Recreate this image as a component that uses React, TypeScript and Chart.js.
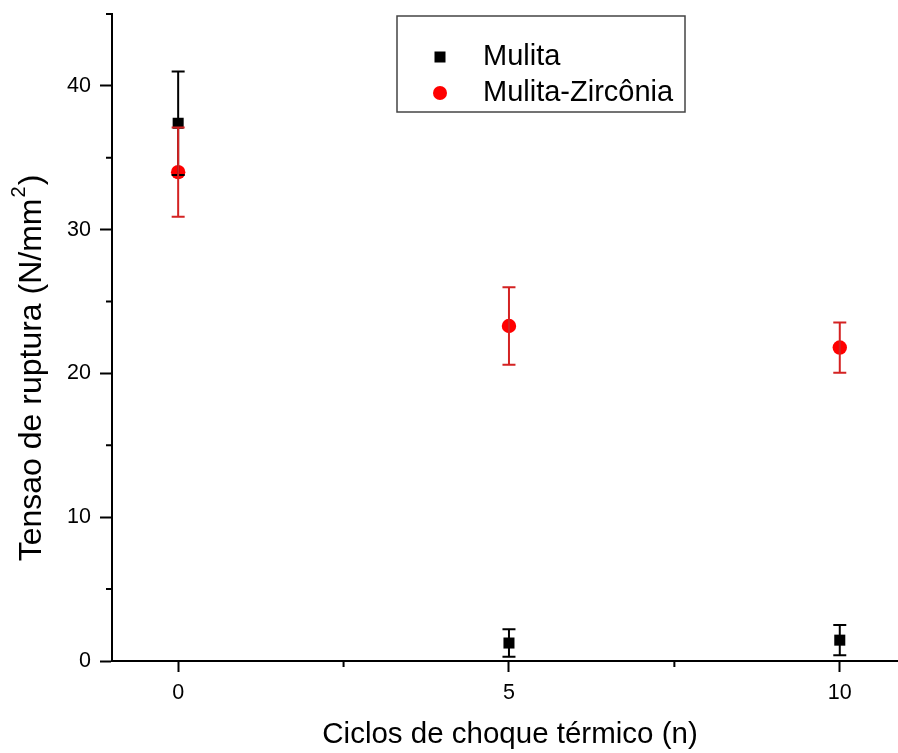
import React, { useEffect, useRef } from 'react';
import { Chart, registerables } from 'chart.js';

Chart.register(...registerables);

// ---- data ----
const cycles = [0, 5, 10];
const mulitaValues = [37.4, 1.25, 1.45];
const mulitaErrors = [3.6, 0.95, 1.05];
const zirconiaValues = [34.0, 23.3, 21.8];
const zirconiaErrors = [3.1, 2.7, 1.75];
const seriesLabels = ['Mulita', 'Mulita-Zircônia'];
const xMajorTicks = [0, 5, 10];
const xMinorTicks = [2.5, 7.5];
const yMajorTicks = [0, 10, 20, 30, 40];
const yMinorTicks = [5, 15, 25, 35, 45];
const xTitle = 'Ciclos de choque térmico (n)';
const yTitleParts = ['Tensao de ruptura (N/mm', '2', ')'];

const FONT = 'Arial, "Liberation Sans", Helvetica, sans-serif';
const BLACK = '#000000';
const RED = '#ff0000';
const RED_BAR = '#d42222';

const errorSets = [mulitaErrors, zirconiaErrors];
const valueSets = [mulitaValues, zirconiaValues];
const barColors = [BLACK, RED_BAR];

const errorBarPlugin = {
  id: 'errorBars',
  afterDatasetsDraw(chart: any) {
    const ctx = chart.ctx;
    const xs = chart.scales.x;
    const ys = chart.scales.y;
    ctx.save();
    for (let d = 0; d < valueSets.length; d++) {
      ctx.strokeStyle = barColors[d];
      ctx.lineWidth = 2;
      for (let j = 0; j < cycles.length; j++) {
        const x = xs.getPixelForValue(cycles[j]);
        const v = valueSets[d][j];
        const e = errorSets[d][j];
        const yt = ys.getPixelForValue(v + e);
        const yb = ys.getPixelForValue(v - e);
        ctx.beginPath();
        ctx.moveTo(x, yt);
        ctx.lineTo(x, yb);
        ctx.moveTo(x - 6.5, yt);
        ctx.lineTo(x + 6.5, yt);
        ctx.moveTo(x - 6.5, yb);
        ctx.lineTo(x + 6.5, yb);
        ctx.stroke();
      }
    }
    ctx.restore();
  },
};

const minorTickPlugin = {
  id: 'minorTicks',
  afterDraw(chart: any) {
    const ctx = chart.ctx;
    const xs = chart.scales.x;
    const ys = chart.scales.y;
    const area = chart.chartArea;
    ctx.save();
    ctx.strokeStyle = BLACK;
    ctx.lineWidth = 2;
    ctx.beginPath();
    for (const v of xMinorTicks) {
      const x = xs.getPixelForValue(v);
      ctx.moveTo(x, area.bottom);
      ctx.lineTo(x, area.bottom + 6);
    }
    for (const v of yMinorTicks) {
      const y = ys.getPixelForValue(v);
      ctx.moveTo(area.left, y);
      ctx.lineTo(area.left - 6, y);
    }
    ctx.stroke();
    ctx.restore();
  },
};

const titlesPlugin = {
  id: 'axisTitles',
  afterDraw(chart: any) {
    const ctx = chart.ctx;
    ctx.save();
    ctx.fillStyle = BLACK;
    // x title
    ctx.font = `29.5px ${FONT}`;
    ctx.textAlign = 'center';
    ctx.textBaseline = 'middle';
    ctx.fillText(xTitle, 510, 735);
    // y title (rotated) with superscript
    const big = `32px ${FONT}`;
    const small = `20px ${FONT}`;
    ctx.font = big;
    const w1 = ctx.measureText(yTitleParts[0]).width;
    const w3 = ctx.measureText(yTitleParts[2]).width;
    ctx.font = small;
    const w2 = ctx.measureText(yTitleParts[1]).width + 2;
    const total = w1 + w2 + w3;
    ctx.translate(32, 368);
    ctx.rotate(-Math.PI / 2);
    ctx.textAlign = 'left';
    ctx.textBaseline = 'middle';
    let sx = -total / 2;
    ctx.font = big;
    ctx.fillText(yTitleParts[0], sx, 0);
    sx += w1;
    ctx.font = small;
    ctx.fillText(yTitleParts[1], sx + 1, -13);
    sx += w2;
    ctx.font = big;
    ctx.fillText(yTitleParts[2], sx, 0);
    ctx.restore();
  },
};

const legendBoxPlugin = {
  id: 'legendBox',
  afterDraw(chart: any) {
    const ctx = chart.ctx;
    ctx.save();
    ctx.strokeStyle = '#444';
    ctx.lineWidth = 1.5;
    ctx.strokeRect(397, 16, 288, 96);
    const rows = [57, 93];
    chart.data.datasets.forEach((ds: any, i: number) => {
      const y = rows[i];
      ctx.fillStyle = ds.backgroundColor;
      if (ds.pointStyle === 'rect') {
        ctx.fillRect(440 - 5.5, y - 5.5, 11, 11);
      } else {
        ctx.beginPath();
        ctx.arc(440, y, 7, 0, Math.PI * 2);
        ctx.fill();
      }
      ctx.fillStyle = BLACK;
      ctx.font = `29px ${FONT}`;
      ctx.textAlign = 'left';
      ctx.textBaseline = 'middle';
      ctx.fillText(ds.label, 483, y);
    });
    ctx.restore();
  },
};

export default function App() {
  const canvasRef = useRef<HTMLCanvasElement | null>(null);

  useEffect(() => {
    document.body.style.margin = '0';
    const canvas = canvasRef.current;
    if (!canvas) return;
    const chart = new Chart(canvas, {
      type: 'scatter',
      data: {
        datasets: [
          {
            label: seriesLabels[0],
            data: cycles.map((c, i) => ({ x: c, y: mulitaValues[i] })),
            pointStyle: 'rect',
            pointRadius: 7.8,
            pointHoverRadius: 7.8,
            backgroundColor: BLACK,
            borderColor: BLACK,
            borderWidth: 0,
            showLine: false,
          },
          {
            label: seriesLabels[1],
            data: cycles.map((c, i) => ({ x: c, y: zirconiaValues[i] })),
            pointStyle: 'circle',
            pointRadius: 7.2,
            pointHoverRadius: 7.2,
            backgroundColor: RED,
            borderColor: RED,
            borderWidth: 0,
            showLine: false,
          },
        ],
      },
      options: {
        animation: false,
        responsive: false,
        devicePixelRatio: 1,
        layout: { autoPadding: false, padding: { top: 14, left: 0, right: 0, bottom: 0 } },
        plugins: {
          legend: { display: false },
          tooltip: { enabled: false },
        },
        scales: {
          x: {
            type: 'linear',
            min: -1,
            max: 10.88,
            afterBuildTicks: (scale: any) => {
              scale.ticks = xMajorTicks.map((v) => ({ value: v }));
            },
            afterFit: (scale: any) => {
              scale.height = 92;
              scale.paddingLeft = 0;
              scale.paddingRight = 0;
            },
            ticks: {
              color: BLACK,
              font: { family: FONT, size: 21.5 },
              padding: 8,
              maxRotation: 0,
              callback: (v: any) => String(v),
            },
            grid: {
              drawOnChartArea: false,
              drawTicks: true,
              tickLength: 11,
              tickWidth: 2,
              tickColor: BLACK,
            },
            border: { display: true, color: BLACK, width: 2 },
          },
          y: {
            type: 'linear',
            min: 0,
            max: 45,
            afterBuildTicks: (scale: any) => {
              scale.ticks = yMajorTicks.map((v) => ({ value: v }));
            },
            afterFit: (scale: any) => {
              scale.width = 112;
              scale.paddingTop = 0;
              scale.paddingBottom = 0;
            },
            ticks: {
              color: BLACK,
              font: { family: FONT, size: 21.5 },
              padding: 9,
              callback: (v: any) => String(v),
            },
            grid: {
              drawOnChartArea: false,
              drawTicks: true,
              tickLength: 12,
              tickWidth: 2,
              tickColor: BLACK,
            },
            border: { display: true, color: BLACK, width: 2 },
          },
        },
      } as any,
      plugins: [errorBarPlugin, minorTickPlugin, titlesPlugin, legendBoxPlugin],
    });
    return () => chart.destroy();
  }, []);

  return (
    <div style={{ position: 'fixed', left: 0, top: 0, width: 898, height: 753, background: '#fff' }}>
      <canvas ref={canvasRef} width={898} height={753} style={{ display: 'block' }} />
    </div>
  );
}
